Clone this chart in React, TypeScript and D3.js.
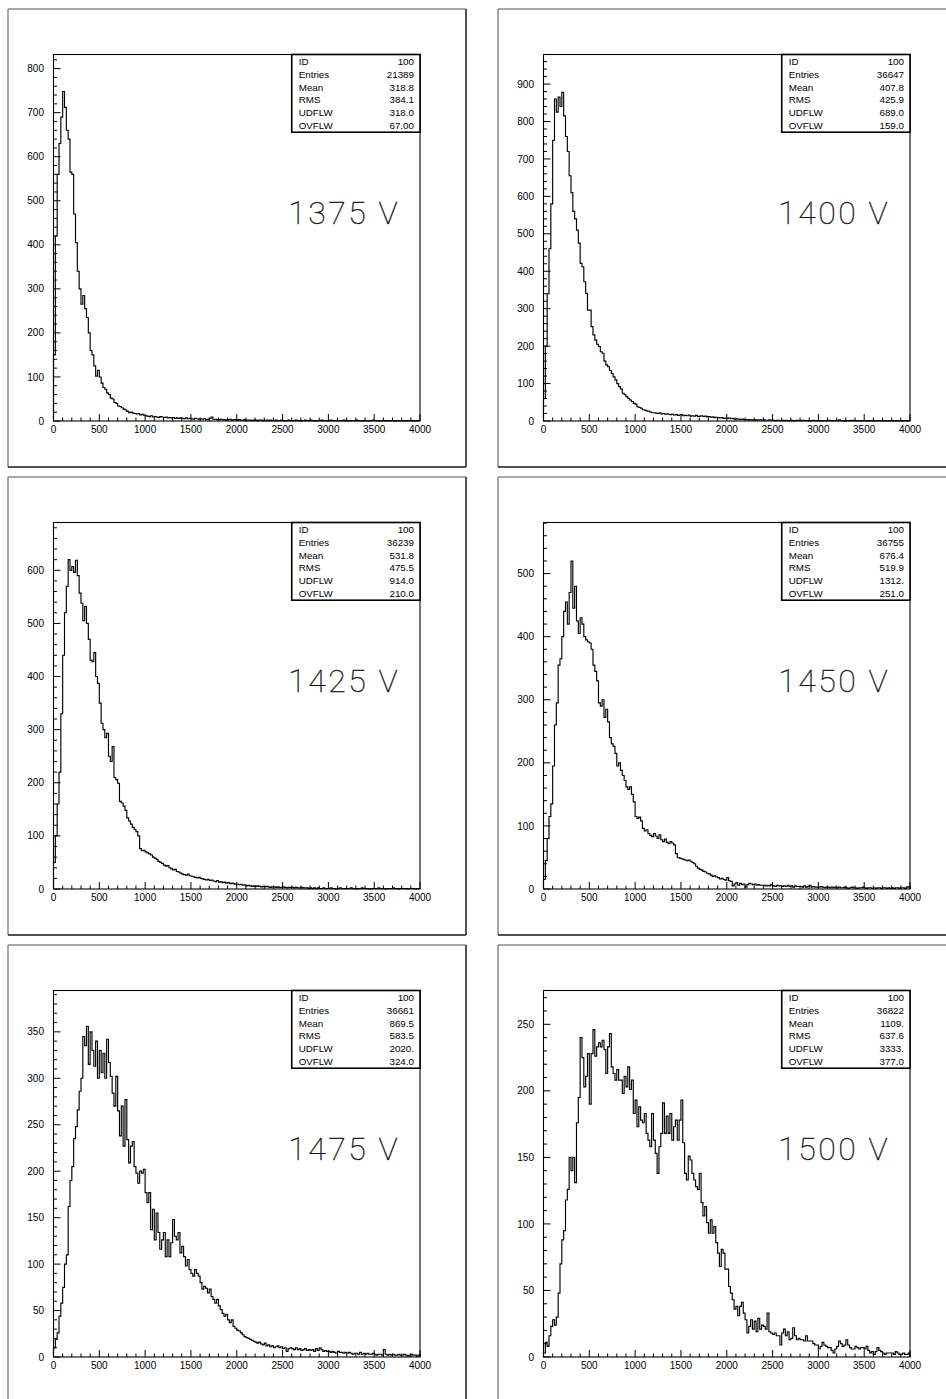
import React from "react";
import * as d3 from "d3";

// ---------- data ----------
const LABELS = ["1375 V", "1400 V", "1425 V", "1450 V", "1475 V", "1500 V"];
const STAT_NAMES = ["ID", "Entries", "Mean", "RMS", "UDFLW", "OVFLW"];
const IDS = ["100", "100", "100", "100", "100", "100"];
const ENTRIES = ["21389", "36647", "36239", "36755", "36661", "36822"];
const MEANS = ["318.8", "407.8", "531.8", "676.4", "869.5", "1109."];
const RMSS = ["384.1", "425.9", "475.5", "519.9", "583.5", "637.6"];
const UDFLWS = ["318.0", "689.0", "914.0", "1312.", "2020.", "3333."];
const OVFLWS = ["67.00", "159.0", "210.0", "251.0", "324.0", "377.0"];

const X_MIN = 0;
const X_MAX = 4000;
const BIN_WIDTH = 20;
const X_MAJOR = 500;
const X_MINOR = 100;
const Y_MAX = [832, 979, 690, 581, 394.5, 275.4];
const Y_MAJOR = [100, 100, 100, 100, 50, 50];
const Y_MINOR = [20, 20, 20, 20, 10, 10];

const H1375 = [
  150, 420, 560, 630, 690, 748, 712, 660, 640, 565,
  560, 470, 405, 340, 300, 265, 285, 255, 235, 200,
  160, 150, 125, 102, 115, 100, 86, 76, 72, 64,
  60, 52, 50, 42, 40, 34, 33, 30, 27, 25,
  22, 19, 20, 18, 17, 16, 17, 14, 15, 13,
  12, 11, 10, 12, 9, 10, 9, 8, 10, 9,
  8, 9, 7, 8, 7, 8, 6, 7, 6, 7,
  6, 5, 7, 5, 6, 5, 4, 6, 5, 4,
  5, 4, 5, 3, 4, 6, 9, 4, 4, 3,
  3, 4, 3, 3, 2, 3, 4, 2, 3, 3,
  2, 3, 2, 2, 3, 1, 2, 2, 1, 2,
  2, 1, 2, 2, 1, 1, 2, 1, 2, 1,
  1, 2, 1, 1, 2, 1, 0, 1, 2, 1,
  1, 1, 2, 1, 0, 1, 1, 2, 1, 1,
  2, 1, 1, 0, 1, 1, 2, 1, 1, 0,
  1, 2, 1, 1, 1, 0, 1, 1, 2, 1,
  1, 0, 1, 1, 1, 2, 1, 0, 1, 1,
  1, 1, 0, 1, 2, 1, 1, 1, 0, 1,
  1, 0, 1, 1, 1, 1, 0, 1, 1, 1,
  0, 1, 1, 0, 1, 1, 1, 0, 1, 1,
];

const H1400 = [
  60, 200, 340, 460, 580, 750, 860, 825, 865, 840,
  878, 815, 760, 720, 655, 610, 560, 540, 510, 475,
  421, 412, 372, 341, 296, 296, 252, 230, 216, 205,
  199, 185, 181, 160, 150, 145, 135, 127, 118, 110,
  100, 92, 85, 74, 70, 65, 60, 56, 52, 47,
  45, 38, 36, 34, 30, 29, 27, 26, 24, 22,
  22, 21, 20, 22, 19, 20, 18, 19, 18, 17,
  18, 16, 17, 15, 16, 17, 14, 15, 14, 16,
  13, 14, 13, 15, 12, 13, 14, 12, 13, 11,
  12, 10, 11, 9, 10, 9, 8, 9, 7, 8,
  7, 8, 6, 7, 5, 6, 5, 4, 5, 4,
  4, 3, 4, 3, 3, 4, 2, 3, 3, 2,
  3, 2, 2, 3, 2, 2, 1, 2, 2, 1,
  2, 1, 2, 1, 1, 2, 1, 1, 2, 1,
  1, 2, 1, 1, 1, 0, 1, 2, 1, 1,
  1, 1, 0, 1, 1, 2, 1, 1, 0, 1,
  1, 3, 1, 1, 0, 1, 1, 1, 2, 1,
  1, 0, 1, 1, 1, 1, 0, 1, 1, 1,
  0, 1, 1, 1, 0, 1, 1, 0, 1, 1,
  1, 0, 1, 1, 1, 0, 1, 1, 0, 1,
];

const H1425 = [
  50, 100, 160, 220, 330, 440, 520, 570, 620, 600,
  607, 596, 619, 590, 557, 538, 505, 532, 500, 470,
  431, 428, 445, 400, 387, 350, 312, 300, 285, 293,
  250, 240, 268, 210, 206, 199, 165, 162, 156, 148,
  134, 128, 122, 116, 112, 108, 100, 76, 72, 73,
  70, 68, 66, 64, 60, 58, 56, 52, 50, 48,
  45, 43, 44, 40, 38, 36, 37, 33, 32, 30,
  28, 27, 26, 28, 25, 24, 23, 22, 21, 22,
  20, 19, 18, 17, 18, 16, 17, 15, 14, 16,
  13, 14, 12, 13, 11, 12, 10, 11, 10, 9,
  9, 8, 9, 7, 8, 6, 7, 6, 5, 6,
  5, 6, 5, 4, 5, 4, 5, 4, 3, 4,
  4, 3, 4, 3, 3, 4, 3, 2, 3, 3,
  3, 2, 3, 2, 2, 3, 2, 2, 2, 1,
  2, 1, 2, 1, 2, 1, 1, 2, 1, 1,
  1, 2, 1, 1, 0, 1, 2, 1, 1, 1,
  1, 1, 2, 1, 1, 0, 1, 1, 2, 1,
  1, 1, 0, 1, 1, 1, 1, 2, 1, 1,
  1, 0, 1, 1, 1, 2, 1, 1, 0, 1,
  1, 1, 1, 0, 1, 1, 1, 0, 1, 1,
];

const H1450 = [
  15, 45, 80, 115, 135, 195, 260, 295, 355, 365,
  400, 440, 455, 420, 470, 520, 445, 480, 425, 405,
  430, 420, 400, 395, 392, 390, 380, 355, 345, 330,
  295, 290, 300, 272, 285, 265, 240, 230, 226, 215,
  195, 200, 188, 180, 172, 162, 158, 162, 150, 138,
  115, 112, 114, 108, 96, 92, 94, 88, 85, 83,
  88, 84, 80, 86, 78, 75, 79, 74, 72, 75,
  73, 70, 56, 50, 49, 48, 47, 46, 45, 46,
  44, 42, 40, 36, 33, 31, 30, 28, 27, 25,
  24, 22, 20, 21, 19, 18, 16, 17, 15, 14,
  18, 13, 12, 5, 8, 10, 6, 9, 7, 8,
  3, 7, 9, 8, 7, 8, 6, 7, 6, 6,
  6, 5, 6, 5, 7, 5, 4, 6, 5, 5,
  4, 5, 4, 6, 4, 5, 3, 5, 4, 4,
  4, 3, 5, 3, 4, 6, 3, 4, 3, 3,
  3, 4, 3, 2, 3, 3, 2, 3, 2, 3,
  2, 3, 2, 2, 3, 2, 1, 2, 3, 2,
  2, 1, 2, 2, 3, 2, 1, 2, 2, 1,
  2, 1, 2, 2, 1, 2, 2, 1, 2, 1,
  2, 1, 2, 2, 1, 2, 2, 1, 3, 4,
];

const H1475 = [
  10, 19, 26, 44, 58, 75, 100, 110, 162, 190,
  205, 235, 248, 266, 286, 300, 345, 335, 356, 315,
  350, 330, 313, 340, 300, 330, 306, 327, 300, 342,
  317, 302, 284, 270, 302, 265, 238, 270, 227, 277,
  234, 209, 227, 232, 205, 198, 187, 200, 198, 202,
  177, 166, 177, 137, 159, 126, 155, 134, 116, 126,
  134, 108, 126, 108, 123, 148, 130, 126, 134, 112,
  119, 108, 98, 105, 94, 90, 87, 94, 90, 87,
  80, 73, 76, 74, 69, 73, 65, 62, 58, 62,
  55, 51, 47, 44, 46, 40, 37, 40, 33, 31,
  29, 28, 26, 24, 22, 21, 20, 19, 18, 17,
  16, 15, 16, 14, 13, 15, 12, 13, 11, 12,
  10, 11, 12, 10, 11, 9, 10, 6, 9, 10,
  9, 8, 10, 8, 9, 7, 8, 9, 7, 8,
  7, 8, 6, 9, 7, 10, 8, 6, 7, 6,
  6, 5, 6, 5, 4, 6, 5, 5, 4, 5,
  4, 5, 4, 3, 4, 4, 3, 5, 3, 4,
  3, 4, 3, 3, 4, 3, 2, 3, 3, 2,
  8, 3, 2, 3, 2, 3, 2, 2, 3, 2,
  2, 3, 2, 1, 2, 3, 2, 2, 1, 2,
];

const H1500 = [
  3, 11, 8, 16, 23, 28, 24, 30, 48, 70,
  88, 95, 118, 126, 150, 140, 150, 131, 176, 195,
  240, 225, 203, 211, 228, 190, 228, 246, 226, 233,
  236, 233, 238, 231, 213, 233, 243, 218, 213, 208,
  216, 208, 208, 198, 211, 203, 218, 201, 208, 183,
  193, 173, 188, 178, 176, 183, 168, 163, 158, 183,
  163, 153, 138, 158, 168, 191, 168, 181, 168, 183,
  163, 173, 178, 163, 178, 193, 161, 138, 133, 151,
  148, 138, 133, 128, 126, 138, 116, 106, 113, 101,
  93, 103, 93, 98, 86, 78, 68, 81, 78, 66,
  66, 53, 48, 43, 36, 38, 31, 38, 41, 33,
  28, 18, 23, 28, 21, 27, 19, 29, 21, 24,
  23, 21, 33, 19, 18, 17, 18, 16, 16, 9,
  18, 21, 16, 19, 13, 14, 22, 16, 13, 14,
  13, 13, 12, 16, 12, 12, 12, 10, 9, 9,
  6, 8, 11, 9, 8, 7, 7, 5, 3, 6,
  8, 12, 10, 8, 9, 13, 9, 7, 6, 6,
  8, 7, 6, 7, 7, 6, 8, 5, 3, 4,
  2, 4, 7, 5, 4, 3, 2, 3, 3, 3,
  3, 2, 4, 3, 2, 2, 3, 2, 2, 3,
];

const HISTS = [H1375, H1400, H1425, H1450, H1475, H1500];

// ---------- layout ----------
const W = 946;
const H = 1399;
const FRAME_X0 = 8;
const FRAME_Y0 = 9;
const COL_STEP = 490;
const ROW_STEP = 468;
const FRAME_SIZE = 458;
const INSET = 45.5;
const PLOT = 366.5;
const FONT = "'Liberation Sans', Arial, Helvetica, sans-serif";

function Panel({ idx }: { idx: number }) {
  const col = idx % 2;
  const row = Math.floor(idx / 2);
  const fx = FRAME_X0 + col * COL_STEP;
  const fy = FRAME_Y0 + row * ROW_STEP;
  const px = fx + INSET;
  const py = fy + INSET;

  const x = d3.scaleLinear().domain([X_MIN, X_MAX]).range([px, px + PLOT]);
  const y = d3.scaleLinear().domain([0, Y_MAX[idx]]).range([py + PLOT, py]);

  const counts = HISTS[idx];
  const pts: [number, number][] = [[X_MIN, 0]];
  counts.forEach((c, i) => pts.push([X_MIN + i * BIN_WIDTH, c]));
  pts.push([X_MIN + counts.length * BIN_WIDTH, counts[counts.length - 1]]);
  pts.push([X_MIN + counts.length * BIN_WIDTH, 0]);
  const line = d3
    .line<[number, number]>()
    .x((d) => x(d[0]))
    .y((d) => y(d[1]))
    .curve(d3.curveStepAfter);

  const xMinor = d3.range(X_MIN, X_MAX + 1, X_MINOR);
  const xMajor = d3.range(X_MIN, X_MAX + 1, X_MAJOR);
  const yMinor = d3.range(0, Y_MAX[idx] + 1e-6, Y_MINOR[idx]);
  const yMajor = d3.range(0, Y_MAX[idx] + 1e-6, Y_MAJOR[idx]);

  const bottom = py + PLOT;
  const boxW = PLOT * 0.35;
  const boxH = 77.7;
  const boxX = px + PLOT - boxW;
  const boxY = py;
  const statVals = [IDS[idx], ENTRIES[idx], MEANS[idx], RMSS[idx], UDFLWS[idx], OVFLWS[idx]];

  return (
    <g>
      {/* outer frame */}
      <line x1={fx} y1={fy} x2={fx + FRAME_SIZE} y2={fy} stroke="#8a8a8a" strokeWidth={1.5} />
      <line x1={fx} y1={fy} x2={fx} y2={fy + FRAME_SIZE} stroke="#8a8a8a" strokeWidth={1.5} />
      <line x1={fx + FRAME_SIZE} y1={fy} x2={fx + FRAME_SIZE} y2={fy + FRAME_SIZE} stroke="#1a1a1a" strokeWidth={1.5} />
      <line x1={fx} y1={fy + FRAME_SIZE} x2={fx + FRAME_SIZE} y2={fy + FRAME_SIZE} stroke="#1a1a1a" strokeWidth={1.5} />

      {/* histogram */}
      <path d={line(pts) || ""} fill="none" stroke="#000" strokeWidth={1.15} />

      {/* plot frame */}
      <rect x={px} y={py} width={PLOT} height={PLOT} fill="none" stroke="#000" strokeWidth={1.1} />

      {/* x ticks */}
      {xMinor.map((v) => {
        const major = v % X_MAJOR === 0;
        return (
          <line key={"xm" + v} x1={x(v)} x2={x(v)} y1={bottom} y2={bottom - (major ? 7 : 3.5)} stroke="#000" strokeWidth={1} />
        );
      })}
      {xMajor.map((v) => (
        <text key={"xl" + v} x={x(v)} y={bottom + 8.5} dy="0.36em" textAnchor="middle" fontFamily={FONT} fontSize={10} fill="#000">
          {v}
        </text>
      ))}

      {/* y ticks */}
      {yMinor.map((v) => {
        const major = Math.abs(v / Y_MAJOR[idx] - Math.round(v / Y_MAJOR[idx])) < 1e-6;
        return (
          <line key={"ym" + v} x1={px} x2={px + (major ? 7 : 3.5)} y1={y(v)} y2={y(v)} stroke="#000" strokeWidth={1} />
        );
      })}
      {yMajor.map((v) => (
        <text key={"yl" + v} x={px - 9.5} y={y(v)} dy="0.36em" textAnchor="end" fontFamily={FONT} fontSize={10} fill="#000">
          {v}
        </text>
      ))}

      {/* stats box */}
      <rect x={boxX} y={boxY} width={boxW} height={boxH} fill="#fff" stroke="#000" strokeWidth={1.6} />
      {STAT_NAMES.map((n, i) => (
        <g key={"st" + n}>
          <text x={boxX + 7} y={boxY + 6.7 + 12.9 * i} dy="0.36em" fontFamily={FONT} fontSize={9.8} fill="#000">
            {n}
          </text>
          <text x={boxX + boxW - 6} y={boxY + 6.7 + 12.9 * i} dy="0.36em" textAnchor="end" fontFamily={FONT} fontSize={9.8} fill="#000">
            {statVals[i]}
          </text>
        </g>
      ))}

      {/* voltage label */}
      <text
        x={px + PLOT * 0.793}
        y={py + PLOT * 0.462}
        textAnchor="middle"
        fontFamily="Roboto, 'Open Sans', sans-serif"
        fontWeight={100}
        fontSize={32}
        letterSpacing={2.5}
        fill="#111"
        stroke="#111"
        strokeWidth={0.35}
      >
        {LABELS[idx]}
      </text>
    </g>
  );
}

export default function App() {
  return (
    <div style={{ position: "absolute", left: 0, top: 0, width: W, height: H, background: "#fff" }}>
      <svg width={W} height={H} viewBox={`0 0 ${W} ${H}`} style={{ display: "block" }}>
        <rect x={0} y={0} width={W} height={H} fill="#fff" />
        {LABELS.map((_, i) => (
          <Panel key={i} idx={i} />
        ))}
      </svg>
    </div>
  );
}
